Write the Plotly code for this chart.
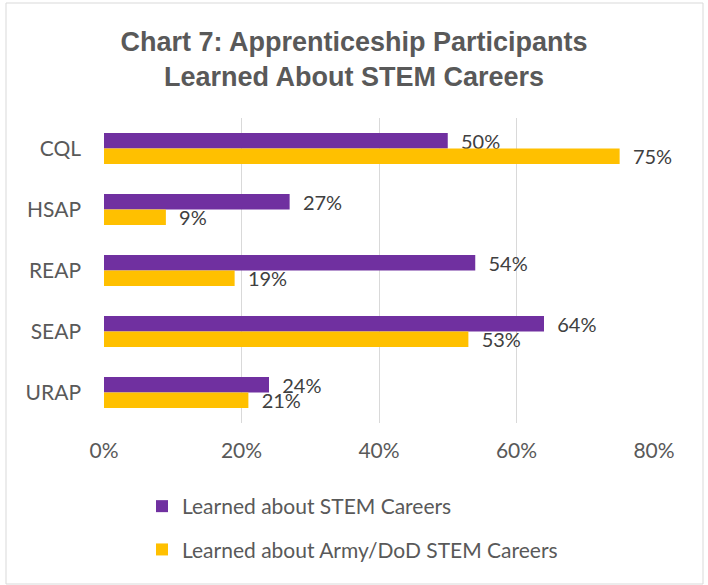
import plotly.graph_objects as go

categories = ["CQL", "HSAP", "REAP", "SEAP", "URAP"]
stem_careers = [0.50, 0.27, 0.54, 0.64, 0.24]
army_dod_careers = [0.75, 0.09, 0.19, 0.53, 0.21]
series_names = ["Learned about STEM Careers", "Learned about Army/DoD STEM Careers"]
tick_vals = [0, 0.2, 0.4, 0.6, 0.8]
tick_text = ["0%", "20%", "40%", "60%", "80%"]

FONT = "Lato, 'Open Sans', sans-serif"
GRAY = "#595959"
NB = "\u00a0"

fig = go.Figure()
for name, vals, color, grp in [
    (series_names[0], stem_careers, "#7030A0", "a"),
    (series_names[1], army_dod_careers, "#FFC000", "b"),
]:
    fig.add_trace(go.Bar(
        y=categories, x=vals, name=name, orientation="h",
        marker=dict(color=color, line=dict(width=0)),
        texttemplate=NB * 2 + "%{x:.0%}", textposition="outside",
        constraintext="none",
        textfont=dict(family=FONT, size=20, color="#404040"),
        cliponaxis=False, legendgroup=grp,
    ))

fig.update_layout(
    width=708, height=585,
    paper_bgcolor="white", plot_bgcolor="white",
    margin=dict(l=104, r=54, t=118, b=162, autoexpand=False),
    barmode="group", bargap=0.49, bargroupgap=0,
    title=dict(
        text="Chart 7: Apprenticeship Participants<br>Learned About STEM Careers",
        x=0.5, xanchor="center", xref="container",
        y=1 - 51 / 585, yanchor="middle", yref="container",
        font=dict(family="Liberation Sans, Arial, sans-serif", size=27, color=GRAY, weight="bold"),
    ),
    xaxis=dict(
        range=[0, 0.8], tickvals=tick_vals, ticktext=tick_text,
        showgrid=True, gridcolor="#D9D9D9", gridwidth=1,
        zeroline=False, showline=False, automargin=False, tickangle=0,
        tickfont=dict(family=FONT, size=21, color=GRAY),
        ticklabelstandoff=13,
    ),
    yaxis=dict(
        autorange="reversed", showgrid=False, zeroline=False, showline=False,
        automargin=False,
        tickfont=dict(family=FONT, size=21, color=GRAY),
        ticklabelstandoff=22,
    ),
    legend=dict(
        orientation="v", xref="container", yref="container",
        x=142 / 708, y=1 - 486 / 585, xanchor="left", yanchor="top",
        font=dict(family=FONT, size=21, color=GRAY),
        tracegroupgap=13, traceorder="grouped",
        itemwidth=30,
    ),
    showlegend=True,
)

# chart border
fig.add_shape(
    type="rect", xref="paper", yref="paper",
    x0=(6 - 104) / 550, x1=(703 - 104) / 550,
    y0=(423 - 584) / 305, y1=(423 - 3) / 305,
    line=dict(color="#D9D9D9", width=1), fillcolor="rgba(0,0,0,0)", layer="below",
)

fig.write_html("out.html")
